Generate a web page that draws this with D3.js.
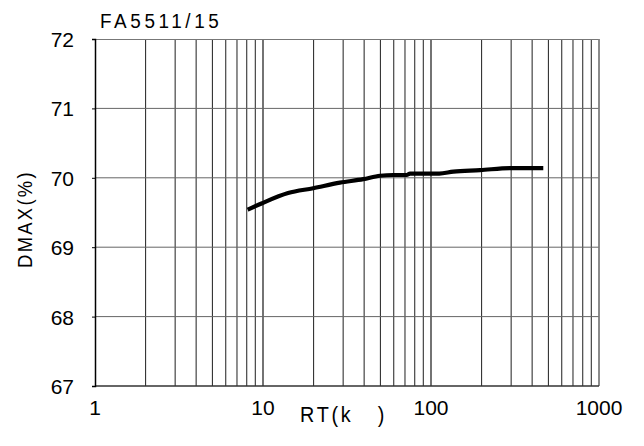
<!DOCTYPE html>
<html>
<head>
<meta charset="utf-8">
<script src="https://cdn.jsdelivr.net/npm/d3@7"></script>
<style>
  body { margin: 0; background: #fff; }
  text { font-family: "Liberation Sans", Arial, sans-serif; fill: #000; }
</style>
</head>
<body>
<svg id="chart" width="644" height="446"></svg>
<script>
// curve
var rtValues = [8.1, 9.8, 14.1, 19.9, 28.7, 39.5, 49.7, 59.7, 71.7, 75, 100, 112, 136, 196, 295, 466];
var dmaxValues = [69.54, 69.63, 69.78, 69.85, 69.93, 69.98, 70.03, 70.04, 70.04, 70.06, 70.06, 70.06, 70.09, 70.11, 70.14, 70.14];
var xTicks = [1, 10, 100, 1000];
var yTicks = [67, 68, 69, 70, 71, 72];
var title = "FA5511/15";

var margin = {left: 95, top: 39, right: 45, bottom: 60};
var width = 644 - margin.left - margin.right,
    height = 446 - margin.top - margin.bottom;

var svg = d3.select("#chart");
var g = svg.append("g").attr("transform", "translate(" + margin.left + "," + margin.top + ")");

var x = d3.scaleLog().domain([1, 1000]).range([0, width]);
var y = d3.scaleLinear().domain([67, 72]).range([height, 0]);

// minor + major vertical grid
var vlines = [];
[1, 10, 100].forEach(function(dec){
  for (var k = 2; k <= 10; k++) vlines.push(dec * k);
});
g.selectAll(".vgrid")
  .data(vlines)
  .enter().append("line")
    .attr("class", "vgrid")
    .attr("x1", d => x(d)).attr("x2", d => x(d))
    .attr("y1", 0).attr("y2", height)
    .attr("stroke", d => (d === 10 || d === 100) ? "#000" : "#333")
    .attr("stroke-width", 1.1);

g.selectAll(".hgrid")
  .data(yTicks.slice(1, -1))
  .enter().append("line")
    .attr("class", "hgrid")
    .attr("x1", 0).attr("x2", width)
    .attr("y1", d => y(d)).attr("y2", d => y(d))
    .attr("stroke", "#666");

// frame
g.append("line").attr("x1", 0).attr("x2", width).attr("y1", 0.5).attr("y2", 0.5).attr("stroke", "#777");
g.append("line").attr("x1", width).attr("x2", width).attr("y1", 0).attr("y2", height).attr("stroke", "#888");
g.append("line").attr("x1", 0).attr("x2", width).attr("y1", height).attr("y2", height).attr("stroke", "#333").attr("stroke-width", 1.5);

// left axis
var yAxis = g.append("g")
  .call(d3.axisLeft(y).tickValues(yTicks).tickSize(3).tickFormat(d3.format("d")));
yAxis.select(".domain").attr("stroke", "#000").attr("stroke-width", 1.5);
yAxis.selectAll(".tick line").attr("stroke", "#000");
yAxis.selectAll("text")
  .attr("x", -21)
  .attr("dy", "0.36em")
  .style("font-size", "21px")
  .style("font-family", "'Liberation Sans', Arial, sans-serif");

// bottom tick labels
g.selectAll(".xlabel")
  .data(xTicks)
  .enter().append("text")
    .attr("class", "xlabel")
    .attr("x", d => x(d))
    .attr("y", height + 29)
    .attr("text-anchor", "middle")
    .style("font-size", "21px")
    .text(d => d);

// curve
var line = d3.line()
  .x((d, i) => x(rtValues[i]))
  .y(d => y(d))
  .curve(d3.curveMonotoneX);

g.append("path")
  .datum(dmaxValues)
  .attr("fill", "none")
  .attr("stroke", "#000")
  .attr("stroke-width", 4.2)
  .attr("stroke-linejoin", "round")
  .attr("d", line);

// titles
svg.append("text")
  .attr("transform", "translate(100,28) scale(0.9,1)")
  .style("font-size", "21px")
  .style("letter-spacing", "4px")
  .text(title);

svg.append("text")
  .attr("transform", "translate(32,219) rotate(-90) scale(0.92,1)")
  .attr("text-anchor", "middle")
  .style("font-size", "20px")
  .style("letter-spacing", "2.5px")
  .text("DMAX(%)");

svg.append("text")
  .attr("transform", "translate(300,422) scale(0.9,1)")
  .style("font-size", "22px")
  .style("letter-spacing", "3px")
  .attr("xml:space", "preserve")
  .text("RT(k   )");
</script>
</body>
</html>
